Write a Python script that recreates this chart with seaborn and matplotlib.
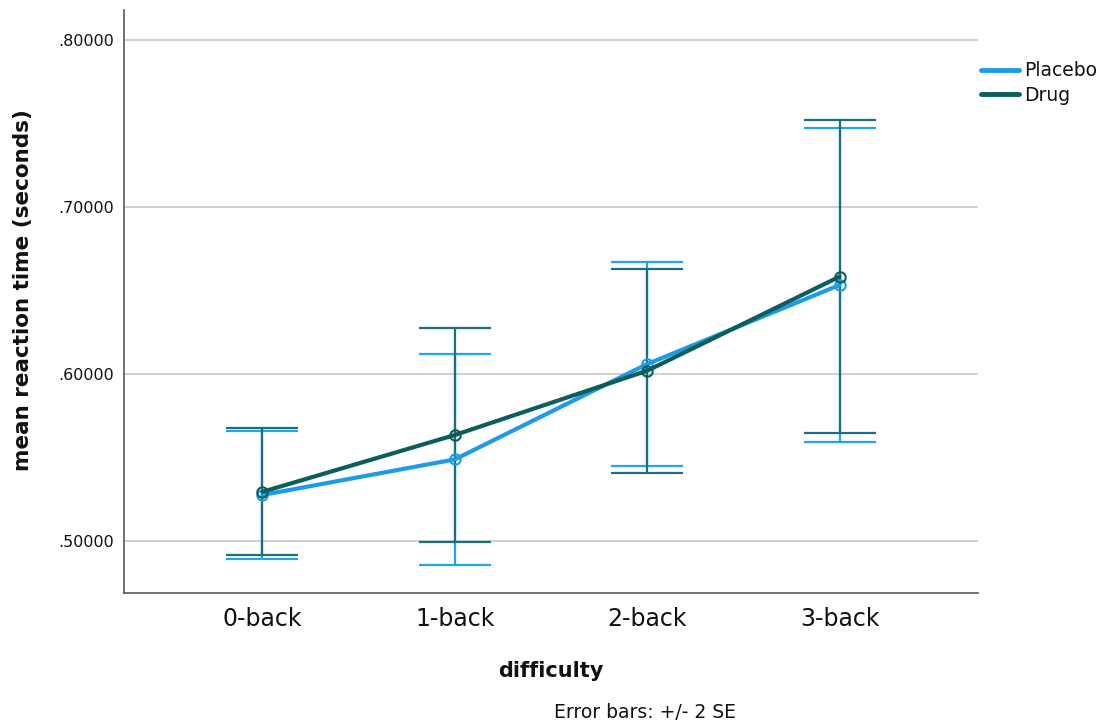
import matplotlib
matplotlib.use("Agg")
import matplotlib.pyplot as plt
import pandas as pd
import seaborn as sns
from matplotlib.lines import Line2D
from matplotlib.ticker import FixedLocator, FuncFormatter

# Data
difficulty = ["0-back", "1-back", "2-back", "3-back"]
placebo_mean = [0.5276, 0.5489, 0.6060, 0.6533]
placebo_2se = [0.0386, 0.0633, 0.0610, 0.0938]
drug_mean = [0.5295, 0.5635, 0.6020, 0.6583]
drug_2se = [0.0381, 0.0643, 0.0611, 0.0938]

conditions = ["Placebo", "Drug"]
line_colors = {"Placebo": "#1e9be8", "Drug": "#0b5e5b"}
err_colors = {"Placebo": "#1ea6e8", "Drug": "#1b6f7c"}

df = pd.DataFrame({
    "difficulty": difficulty * 2,
    "mean": placebo_mean + drug_mean,
    "err": placebo_2se + drug_2se,
    "condition": ["Placebo"] * 4 + ["Drug"] * 4,
})

sns.set_style("white")
plt.rcParams["font.family"] = ["DejaVu Sans"]

fig = plt.figure(figsize=(11.11, 7.26), dpi=100)
ax = fig.add_axes([124 / 1111, 1 - 593 / 726, (978 - 124) / 1111, (593 - 10) / 726])

# Lines with open circle markers
sns.lineplot(data=df, x="difficulty", y="mean", hue="condition",
             hue_order=conditions, palette=line_colors, marker="o",
             markersize=7.5, markerfacecolor="none", markeredgewidth=1.5,
             linewidth=3.0, legend=False, ax=ax, zorder=3)
for line in ax.lines:
    line.set_markeredgecolor(line.get_color())

# Error bars (+/- 2 SE)
for cond in conditions:
    sub = df[df["condition"] == cond]
    ax.errorbar(sub["difficulty"], sub["mean"], yerr=sub["err"], fmt="none",
                ecolor=err_colors[cond], elinewidth=1.6, capsize=26,
                capthick=1.6, zorder=2)

ax.set_xlim(-0.72, 3.72)
ax.set_ylim(0.4689, 0.818)
ax.yaxis.set_major_locator(FixedLocator([0.5, 0.6, 0.7, 0.8]))
ax.yaxis.set_major_formatter(FuncFormatter(lambda v, p: f"{v:.5f}".lstrip("0")))
ax.grid(axis="y", color="#c8c8c8", linewidth=1.2)
ax.set_axisbelow(True)

for side in ["top", "right"]:
    ax.spines[side].set_visible(False)
for side in ["left", "bottom"]:
    ax.spines[side].set_color("#666666")
    ax.spines[side].set_linewidth(1.3)

ax.tick_params(axis="y", labelsize=11.5, length=0, pad=7, colors="#111111")
ax.tick_params(axis="x", labelsize=17, length=0, pad=10, colors="#111111")

ax.set_xlabel("difficulty", fontsize=15, fontweight="bold", labelpad=22, color="#111111")
ax.set_ylabel("mean reaction time (seconds)", fontsize=15.5, fontweight="bold",
              color="#111111")
ax.yaxis.set_label_coords(-0.106, 0.52)

handles = [Line2D([], [], color=line_colors[c], linewidth=3.5) for c in conditions]
ax.legend(handles, conditions, loc="upper left", bbox_to_anchor=(1.004, 0.912),
          frameon=False, borderaxespad=0, borderpad=0, handlelength=2.0,
          handletextpad=0.3, labelspacing=0.3, fontsize=13.5,
          labelcolor="#111111")

fig.text(645 / 1111, 1 - 713 / 726, "Error bars: +/- 2 SE", ha="center",
         va="center", fontsize=13.5, color="#111111")

fig.savefig("out.png", dpi=100, facecolor="white")
